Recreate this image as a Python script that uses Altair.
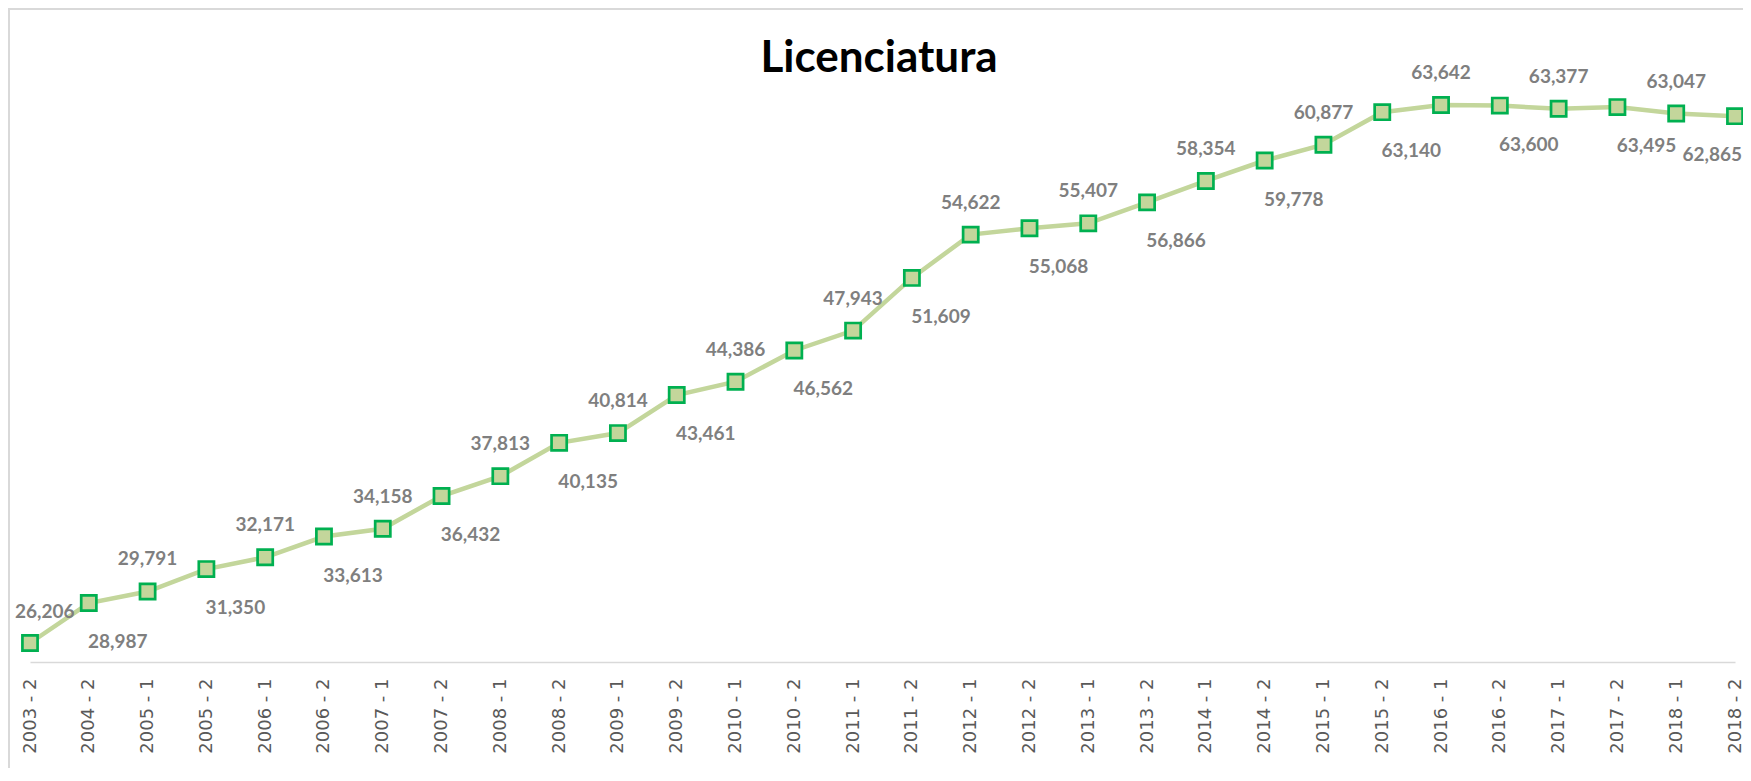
import altair as alt
import pandas as pd

periods = ["2003 - 2", "2004 - 2", "2005 - 1", "2005 - 2", "2006 - 1", "2006 - 2",
           "2007 - 1", "2007 - 2", "2008 - 1", "2008 - 2", "2009 - 1", "2009 - 2",
           "2010 - 1", "2010 - 2", "2011 - 1", "2011 - 2", "2012 - 1", "2012 - 2",
           "2013 - 1", "2013 - 2", "2014 - 1", "2014 - 2", "2015 - 1", "2015 - 2",
           "2016 - 1", "2016 - 2", "2017 - 1", "2017 - 2", "2018 - 1", "2018 - 2"]
students = [26206, 28987, 29791, 31350, 32171, 33613, 34158, 36432, 37813, 40135,
            40814, 43461, 44386, 46562, 47943, 51609, 54622, 55068, 55407, 56866,
            58354, 59778, 60877, 63140, 63642, 63600, 63377, 63495, 63047, 62865]
title_text = "Licenciatura"

W, H = 1735, 760
n = len(periods)

df = pd.DataFrame({"periodo": periods, "alumnos": students, "idx": list(range(n))})

x_enc = alt.X(
    "periodo:N", sort=periods,
    scale=alt.Scale(type="point", range=[22, 1727], padding=0),
    axis=alt.Axis(title=None, labelAngle=270, labelFont="DejaVu Sans", labelFontSize=18,
                  labelColor="#595959", labelPadding=16, ticks=False, grid=False,
                  domainColor="#d9d9d9", domainWidth=1.5, offset=-106,
                  labelOverlap=False),
)
y_enc = alt.Y("alumnos:Q", scale=alt.Scale(domain=[20000, 70000], range=[724.2, 5.6]),
              axis=None)

base = alt.Chart(df).encode(x=x_enc, y=y_enc)

line = base.mark_line(color="#c3d69b", strokeWidth=4.5)
pts = base.mark_square(size=230, fill="#c3d69b", stroke="#00b050", strokeWidth=2.7,
                       opacity=1)

lab_style = dict(font="Lato", fontWeight="bold", fontSize=19, color="#7f7f7f",
                 baseline="middle")
txt = alt.Text("alumnos:Q", format=",")

above = base.transform_filter("datum.idx % 2 == 0 && datum.idx > 0").mark_text(
    dy=-32, **lab_style).encode(text=txt)
first = base.transform_filter("datum.idx == 0").mark_text(
    dy=-31, dx=-15, align="left", **lab_style).encode(text=txt)
below = base.transform_filter(f"datum.idx % 2 == 1 && datum.idx < {n - 1}").mark_text(
    dx=29, dy=39, **lab_style).encode(text=txt)
last = base.transform_filter(f"datum.idx == {n - 1}").mark_text(
    dx=7, dy=39, align="right", **lab_style).encode(text=txt)

one = pd.DataFrame({"t": [title_text]})
title = alt.Chart(one).mark_text(font="Lato", fontSize=44, fontWeight="bold",
                                 color="#000000", baseline="alphabetic", align="center").encode(
    text="t:N", x=alt.value(871), y=alt.value(64))
top_border = alt.Chart(one).mark_rule(color="#d9d9d9", strokeWidth=2).encode(
    x=alt.value(0), x2=alt.value(W), y=alt.value(1))
left_border = alt.Chart(one).mark_rule(color="#d9d9d9", strokeWidth=2).encode(
    x=alt.value(1), y=alt.value(0), y2=alt.value(H))

chart = alt.layer(top_border, left_border, line, pts, above, first, below, last, title).properties(
    width=W, height=H,
    autosize=alt.AutoSizeParams(type="none"),
    padding=0,
    background="#ffffff",
).configure_view(stroke=None)

chart.save("out.html", embed_options={"renderer": "svg", "actions": False})
